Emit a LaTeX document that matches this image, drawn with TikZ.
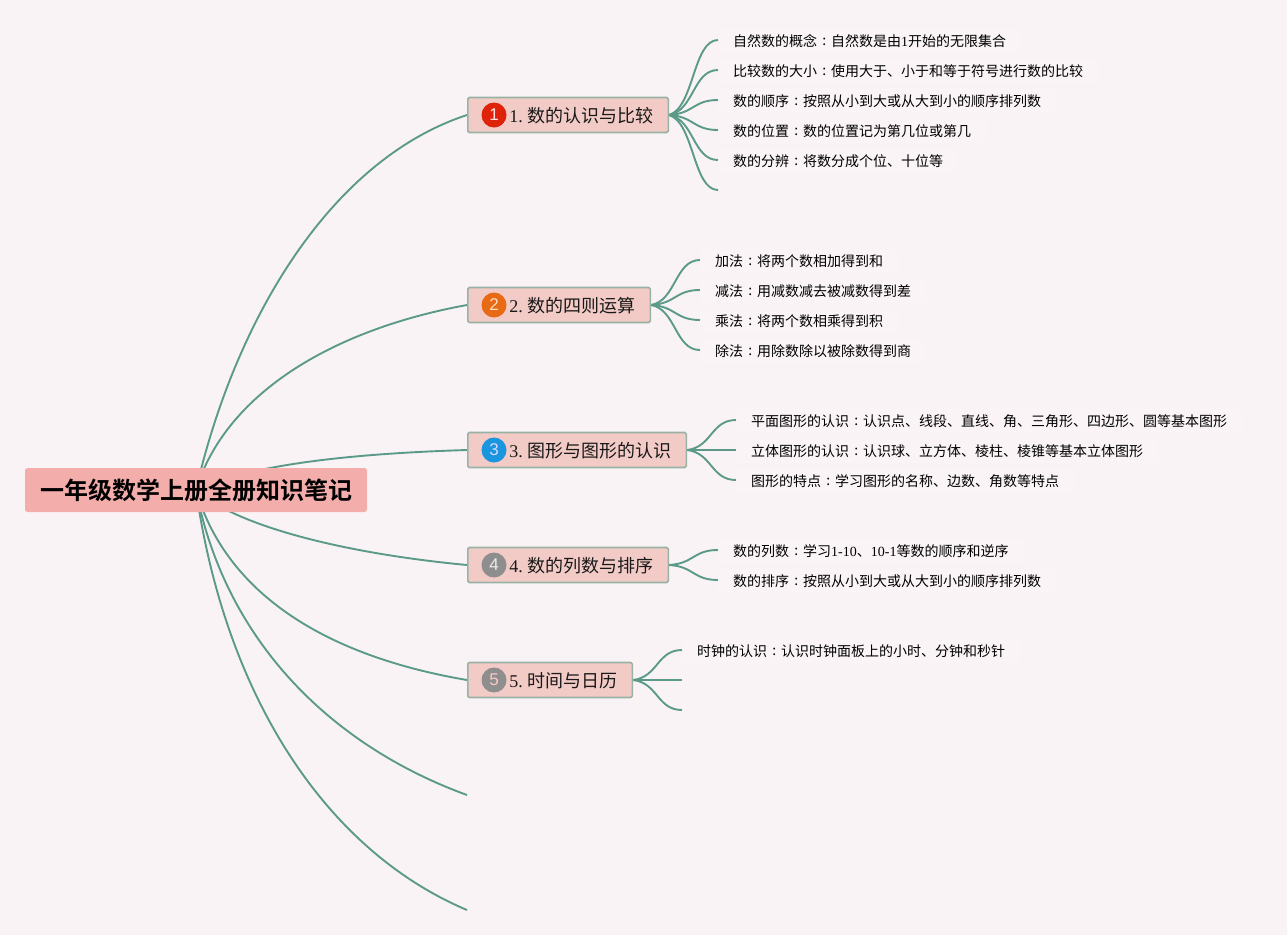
\documentclass[tikz,border=0pt]{standalone}
\usepackage{fontspec}
\setmainfont{Liberation Serif}
\newfontfamily\cjk{Noto Sans CJK SC}
\newfontfamily\cjkb{Noto Sans CJK SC Bold}
\newfontfamily\badgefont{Liberation Sans}
\usetikzlibrary{backgrounds,calc}
\definecolor{pagebg}{HTML}{FAF3F6}
\definecolor{linkc}{HTML}{5B9A88}
\definecolor{topicfill}{HTML}{F3CBC6}
\definecolor{topicline}{HTML}{98B3A6}
\definecolor{rootfill}{HTML}{F3ADAB}
\definecolor{bred}{HTML}{DF220A}
\definecolor{borange}{HTML}{E96A14}
\definecolor{bblue}{HTML}{1A96DE}
\definecolor{bgray}{HTML}{8E8E8E}
\tikzset{
  x=1pt,y=-1pt,
  rootnode/.style={fill=rootfill,rounded corners=2.5pt,minimum width=342pt,minimum height=44pt,inner sep=0pt,font=\cjkb\fontsize{24}{28}\selectfont,text=black},
  topicnode/.style={anchor=west,fill=topicfill,draw=topicline,line width=1.6pt,rounded corners=1.5pt,minimum height=35pt,inner ysep=0pt,inner xsep=14.5pt,text height=15.5pt,text depth=0pt,font=\cjk\fontsize{18}{22}\selectfont,text=black!90},
  leafnode/.style={anchor=west,fill=white,fill opacity=0.15,text opacity=1,inner xsep=15pt,inner ysep=5pt,font=\cjk\fontsize{14}{17}\selectfont,text=black},
  badgenode/.style={circle,inner sep=0pt,minimum size=25pt,font=\badgefont\fontsize{17}{20}\selectfont},
  mainlink/.style={draw=linkc,line width=1.9pt},
  leaflink/.style={draw=linkc,line width=1.9pt},
}
\newcommand{\lat}[1]{{\rmfamily #1}}
\newcommand{\num}[1]{\hspace*{27pt}{\rmfamily #1.\kern5pt}}
\newcommand{\cc}{\makebox[14pt]{\raisebox{1pt}{:}}}
\begin{document}
\begin{tikzpicture}
\useasboundingbox (0,0) rectangle (1287,935);

\node[rootnode] (root) at (196,490) {一年级数学上册全册知识笔记};

\node[topicnode] (t1) at (467,115) {\num{1}数的认识与比较};
\node[topicnode] (t2) at (467,305) {\num{2}数的四则运算};
\node[topicnode] (t3) at (467,450) {\num{3}图形与图形的认识};
\node[topicnode] (t4) at (467,565) {\num{4}数的列数与排序};
\node[topicnode] (t5) at (467,680) {\num{5}时间与日历};

\node[badgenode,fill=bred,text=red!12] (b1) at (494,115) {1};
\node[badgenode,fill=borange,text=orange!25] (b2) at (494,305) {2};
\node[badgenode,fill=bblue,text=blue!15] (b3) at (494,450) {3};
\node[badgenode,fill=bgray,text=white!85!gray] (b4) at (494,565) {4};
\node[badgenode,fill=bgray,text=pink!90] (b5) at (494,680) {5};

\coordinate (e6) at (467,795);
\coordinate (e7) at (467,910);

\node[leafnode] (l11) at (718,41) {自然数的概念\cc 自然数是由\lat{1}开始的无限集合};
\node[leafnode] (l12) at (718,71) {比较数的大小\cc 使用大于、小于和等于符号进行数的比较};
\node[leafnode] (l13) at (718,101) {数的顺序\cc 按照从小到大或从大到小的顺序排列数};
\node[leafnode] (l14) at (718,131) {数的位置\cc 数的位置记为第几位或第几};
\node[leafnode] (l15) at (718,161) {数的分辨\cc 将数分成个位、十位等};
\coordinate (l16) at (718,191);

\node[leafnode] (l21) at (700,261) {加法\cc 将两个数相加得到和};
\node[leafnode] (l22) at (700,291) {减法\cc 用减数减去被减数得到差};
\node[leafnode] (l23) at (700,321) {乘法\cc 将两个数相乘得到积};
\node[leafnode] (l24) at (700,351) {除法\cc 用除数除以被除数得到商};

\node[leafnode] (l31) at (736,421) {平面图形的认识\cc 认识点、线段、直线、角、三角形、四边形、圆等基本图形};
\node[leafnode] (l32) at (736,451) {立体图形的认识\cc 认识球、立方体、棱柱、棱锥等基本立体图形};
\node[leafnode] (l33) at (736,481) {图形的特点\cc 学习图形的名称、边数、角数等特点};

\node[leafnode] (l41) at (718,551) {数的列数\cc 学习\lat{1-10}、\lat{10-1}等数的顺序和逆序};
\node[leafnode] (l42) at (718,581) {数的排序\cc 按照从小到大或从大到小的顺序排列数};

\node[leafnode] (l51) at (682,651) {时钟的认识\cc 认识时钟面板上的小时、分钟和秒针};
\coordinate (l52) at (682,681);
\coordinate (l53) at (682,711);

\begin{scope}[on background layer]
\fill[pagebg] (0,0) rectangle (1287,935);
\draw[mainlink] (root.center) .. controls (235,320) and (330,160) .. (t1.west);
\draw[mainlink] (root.center) .. controls (225,395) and (330,330) .. (t2.west);
\draw[mainlink] (root.center) .. controls (255,462) and (370,453) .. (t3.west);
\draw[mainlink] (root.center) .. controls (235,525) and (340,553) .. (t4.west);
\draw[mainlink] (root.center) .. controls (225,590) and (320,655) .. (t5.west);
\draw[mainlink] (root.center) .. controls (225,640) and (330,745) .. (e6);
\draw[mainlink] (root.center) .. controls (225,695) and (325,850) .. (e7);
\foreach \s/\e in {t1/l11.west,t1/l12.west,t1/l13.west,t1/l14.west,t1/l15.west,t1/l16,
                   t2/l21.west,t2/l22.west,t2/l23.west,t2/l24.west,
                   t3/l31.west,t3/l32.west,t3/l33.west,
                   t4/l41.west,t4/l42.west,
                   t5/l51.west,t5/l52,t5/l53}{
  \draw[leaflink] let \p1=(\s.east),\p2=([yshift=1pt]\e) in
    (\p1) .. controls ({\x1+25pt},{\y1+0.1*(\y2-\y1)}) and ({\x2-25pt},\y2) .. (\p2);
}
\end{scope}
\end{tikzpicture}
\end{document}
